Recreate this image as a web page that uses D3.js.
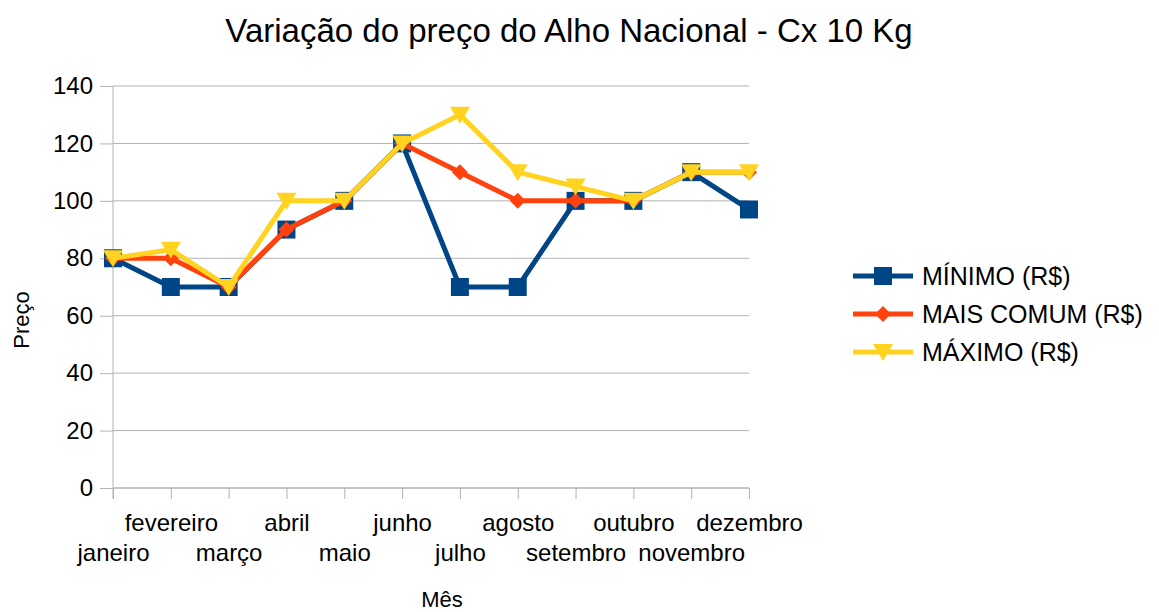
<!DOCTYPE html>
<html>
<head>
<meta charset="utf-8">
<script src="https://cdn.jsdelivr.net/npm/d3@7"></script>
<style>
  body { margin: 0; background: #fff; }
  text { font-family: "Liberation Sans", Arial, sans-serif; fill: #000; }
</style>
</head>
<body>
<svg id="chart" width="1159" height="612"></svg>
<script>
const months = ['janeiro', 'fevereiro', 'março', 'abril', 'maio', 'junho',
  'julho', 'agosto', 'setembro', 'outubro', 'novembro', 'dezembro'];
const minimo = [80, 70, 70, 90, 100, 120, 70, 70, 100, 100, 110, 97];
const maisComum = [80, 80, 70, 90, 100, 120, 110, 100, 100, 100, 110, 110];
const maximo = [80, 83, 70, 100, 100, 120, 130, 110, 105, 100, 110, 110];
const yTicks = [0, 20, 40, 60, 80, 100, 120, 140];

const series = [
  { name: 'MÍNIMO (R$)', values: minimo, color: '#004586', marker: 'square' },
  { name: 'MAIS COMUM (R$)', values: maisComum, color: '#ff420e', marker: 'diamond' },
  { name: 'MÁXIMO (R$)', values: maximo, color: '#ffd320', marker: 'triangle' }
];

const svg = d3.select('#chart');
const plotL = 113, plotR = 749, plotT = 86, plotB = 488;

const x = d3.scalePoint().domain(months).range([plotL, plotR]);
const y = d3.scaleLinear().domain([0, 140]).range([plotB, plotT]);

// grid
svg.append('g').selectAll('line')
  .data(yTicks)
  .enter().append('line')
  .attr('x1', plotL).attr('x2', plotR)
  .attr('y1', d => y(d)).attr('y2', d => y(d))
  .attr('stroke', '#b3b3b3').attr('stroke-width', 1);

// y axis
const yAxis = svg.append('g')
  .attr('transform', `translate(${plotL},0)`)
  .call(d3.axisLeft(y).tickValues(yTicks).tickSize(13).tickPadding(7));
yAxis.select('.domain').attr('stroke', '#b3b3b3').attr('d', `M0,${plotT}V${plotB + 11}`);
yAxis.selectAll('.tick line').attr('stroke', '#b3b3b3');
yAxis.selectAll('.tick text').style('font-size', '24px').attr('font-family', 'Liberation Sans');

// x axis
const xAxis = svg.append('g')
  .attr('transform', `translate(0,${plotB})`)
  .call(d3.axisBottom(x).tickSize(11).tickPadding(0));
xAxis.select('.domain').attr('stroke', '#b3b3b3').attr('d', `M${plotL},0H${plotR}`);
xAxis.selectAll('.tick line').attr('stroke', '#b3b3b3');
xAxis.selectAll('.tick text')
  .style('font-size', '24px')
  .attr('font-family', 'Liberation Sans')
  .attr('dy', null)
  .attr('y', (d, i) => i % 2 === 1 ? 43 : 73);

// lines
const line = d3.line()
  .x((d, i) => x(months[i]))
  .y(d => y(d));

function markerPath(type, s) {
  if (type === 'square') return `M${-s},${-s}H${s}V${s}H${-s}Z`;
  if (type === 'diamond') return `M0,${-s}L${s},0L0,${s}L${-s},0Z`;
  return `M${-s},${-s * 0.8}H${s}L0,${s * 0.9}Z`;
}
const markerSize = { square: 9, diamond: 8, triangle: 10 };

series.forEach(s => {
  const g = svg.append('g');
  g.append('path')
    .datum(s.values)
    .attr('d', line)
    .attr('fill', 'none')
    .attr('stroke', s.color)
    .attr('stroke-width', 5)
    .attr('stroke-linejoin', 'round');
  g.selectAll('path.mk')
    .data(s.values)
    .enter().append('path')
    .attr('class', 'mk')
    .attr('transform', (d, i) => `translate(${x(months[i])},${y(d)})`)
    .attr('d', markerPath(s.marker, markerSize[s.marker]))
    .attr('fill', s.color);
});

// legend
const legend = svg.append('g');
series.forEach((s, i) => {
  const ly = 276 + i * 38;
  legend.append('line')
    .attr('x1', 853).attr('x2', 913)
    .attr('y1', ly).attr('y2', ly)
    .attr('stroke', s.color).attr('stroke-width', 5);
  legend.append('path')
    .attr('transform', `translate(883,${ly})`)
    .attr('d', markerPath(s.marker, markerSize[s.marker]))
    .attr('fill', s.color);
  legend.append('text')
    .attr('x', 922).attr('y', ly + 9)
    .style('font-size', '25px')
    .text(s.name);
});

// titles
svg.append('text')
  .attr('x', 569).attr('y', 42)
  .attr('text-anchor', 'middle')
  .style('font-size', '33px')
  .text('Variação do preço do Alho Nacional - Cx 10 Kg');

svg.append('text')
  .attr('transform', 'translate(29,320) rotate(-90)')
  .attr('text-anchor', 'middle')
  .style('font-size', '22px')
  .text('Preço');

svg.append('text')
  .attr('x', 442).attr('y', 607)
  .attr('text-anchor', 'middle')
  .style('font-size', '22px')
  .text('Mês');
</script>
</body>
</html>
